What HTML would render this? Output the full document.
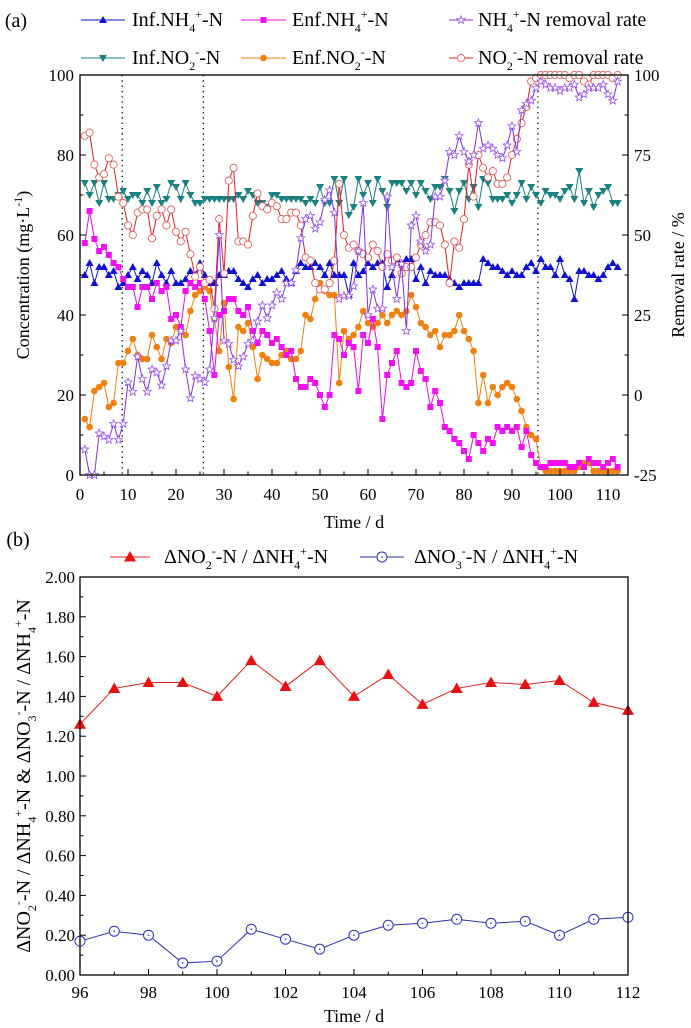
<!DOCTYPE html>
<html><head><meta charset="utf-8">
<style>
html,body{margin:0;padding:0;background:#fff;}
svg{display:block;font-family:"Liberation Serif",serif;}
</style></head>
<body>
<svg id="chart" width="691" height="1028" viewBox="0 0 691 1028" xmlns="http://www.w3.org/2000/svg">
<g id="pa"></g>
<g id="pb"></g>
</svg>
<script>
const infNH4=[50,53,48,52,52,50,51,47,48,50,52,49,51,50,48,53,50,48,51,48,48,49,51,50,53,50,48,48,50,50,51,51,49,48,47,49,50,48,49,49,50,51,49,48,51,53,52,52,53,52,50,53,50,50,50,45,53,50,51,53,52,53,53,47,50,54,53,54,54,49,52,48,51,50,50,50,49,48,47,48,48,48,48,54,53,52,52,51,50,51,50,50,52,53,51,54,52,52,50,54,50,49,44,51,51,50,50,49,50,52,53,52];
const infNO2=[73,70,73,68,73,69,69,70,71,69,70,70,68,71,68,72,68,69,73,72,69,73,70,68,68,69,69,69,69,69,69,69,70,69,71,70,68,68,67,70,70,69,69,69,69,69,68,69,68,72,68,68,74,68,74,65,67,74,70,73,68,74,71,67,73,73,73,71,73,70,73,71,69,72,72,74,71,66,71,73,69,72,67,74,73,69,69,69,70,68,70,73,69,72,70,68,71,70,70,69,71,72,69,76,68,71,67,70,71,72,68,68];
const enfNH4=[58,66,59,56,57,55,53,52,49,47,47,42,47,47,44,48,46,47,39,40,37,46,48,47,48,44,36,25,40,41,44,44,41,40,42,36,33,36,35,33,34,32,30,31,24,22,22,24,23,20,17,20,35,34,30,33,32,21,35,33,39,32,14,25,28,31,23,22,23,31,26,24,17,21,18,12,11,9,8,6,4,10,8,6,9,8,12,11,12,11,12,7,11,5,3,2,2,3,3,3,3,2,2,3,2,4,3,3,2,3,4,2];
const enfNO2=[14,12,21,22,23,17,18,28,28,31,34,30,29,29,35,32,29,34,33,37,36,35,41,45,46,47,46,39,31,43,27,19,37,36,38,32,24,30,29,28,28,30,31,29,29,31,40,39,44,48,46,45,45,23,36,34,35,37,41,38,37,38,40,38,40,41,40,41,45,42,38,37,35,36,32,35,35,36,40,36,34,31,18,25,18,22,20,22,23,22,19,16,12,10,9,2,1,1,1,1,1,1,1,2,3,3,1,1,1,1,1,1];
const nh4Rate=[-17,-25,-25,-12,-13,-14,-9,-14,-9,4,1,12,5,1,8,7,3,9,17,17,20,8,-1,6,5,4,8,24,50,17,16,11,9,12,16,17,23,28,24,28,32,30,35,35,39,49,55,56,52,54,61,64,57,30,31,31,34,45,60,25,33,27,27,62,40,30,41,20,53,56,48,45,47,62,62,67,76,75,81,76,73,75,85,77,78,77,75,74,78,84,76,89,91,92,96,98,97,96,96,95,96,96,97,93,94,96,96,96,97,94,92,98];
const no2Rate=[81,82,72,68,69,74,72,62,60,53,50,57,58,58,49,56,58,53,58,51,48,51,44,37,40,35,36,27,55,38,67,71,48,48,47,56,63,59,58,60,59,55,55,57,57,53,43,42,35,33,33,35,42,66,50,46,47,45,44,43,47,45,40,44,42,43,38,40,40,43,47,50,54,54,53,47,35,48,46,55,72,62,75,71,68,70,66,66,68,75,80,85,90,98,99,100,100,100,100,100,100,99,100,100,98,97,100,100,100,100,99,100];
const phaseDays=[8.8,25.7,95.4];
const xTicksA=[0,10,20,30,40,50,60,70,80,90,100,110];
const yTicksA=[0,20,40,60,80,100];
const yTicksR=[-25,0,25,50,75,100];
const daysB=[96,97,98,99,100,101,102,103,104,105,106,107,108,109,110,111,112];
const ratioNO2=[1.26,1.44,1.47,1.47,1.40,1.58,1.45,1.58,1.40,1.51,1.36,1.44,1.47,1.46,1.48,1.37,1.33];
const ratioNO3=[0.17,0.22,0.20,0.06,0.07,0.23,0.18,0.13,0.20,0.25,0.26,0.28,0.26,0.27,0.20,0.28,0.29];
const xTicksB=[96,98,100,102,104,106,108,110,112];
const yTicksB=[0,0.2,0.4,0.6,0.8,1.0,1.2,1.4,1.6,1.8,2.0];

const NS="http://www.w3.org/2000/svg";
function mk(parent,tag,attrs){const e=document.createElementNS(NS,tag);for(const k in attrs)e.setAttribute(k,attrs[k]);parent.appendChild(e);return e;}
const pa=document.getElementById('pa'), pb=document.getElementById('pb');

const AL=80,AR=628,AT=75,AB=475;
const xA=d=>AL+d*4.8;
const yA=v=>AB-(v/100)*(AB-AT);
const yR=r=>AB-((r+25)/125)*(AB-AT);

function marker(g,type,x,y,color,name){
  let e;
  if(type==='tri'){e=mk(g,'path',{d:`M${x},${y-4}L${x+4},${y+3}L${x-4},${y+3}Z`,fill:color});}
  else if(type==='dtri'){e=mk(g,'path',{d:`M${x-4},${y-3}L${x+4},${y-3}L${x},${y+4}Z`,fill:color});}
  else if(type==='sq'){e=mk(g,'rect',{x:x-3,y:y-3,width:6,height:6,fill:color});}
  else if(type==='dot'){e=mk(g,'circle',{cx:x,cy:y,r:3.3,fill:color});}
  else if(type==='circ'){e=mk(g,'circle',{cx:x,cy:y,r:3.6,fill:'#fff',stroke:color,'stroke-width':0.9});}
  else if(type==='bcirc'){e=mk(g,'circle',{cx:x,cy:y,r:5,fill:'#fff',stroke:color,'stroke-width':1});mk(g,'circle',{cx:x,cy:y,r:0.8,fill:color});}
  else if(type==='btri'){e=mk(g,'path',{d:`M${x},${y-6}L${x+6},${y+4.5}L${x-6},${y+4.5}Z`,fill:color});}
  else if(type==='star'){let p='';for(let i=0;i<10;i++){const rr=i%2?1.8:4.2;const a=-Math.PI/2+i*Math.PI/5;p+=(i?'L':'M')+(x+rr*Math.cos(a)).toFixed(2)+','+(y+rr*Math.sin(a)).toFixed(2);}e=mk(g,'path',{d:p+'Z',fill:'#fff',stroke:color,'stroke-width':0.8});}
  
  
}

function series(parent,vals,xf,yf,lineColor,mColor,type,name,xs){
  const g=mk(parent,'g',{});
  
  
  const pts=vals.map((v,i)=>[xf(xs?xs[i]:i+1),yf(v)]);
  const l=mk(g,'polyline',{points:pts.map(p=>p.join(',')).join(' '),fill:'none',stroke:lineColor,'stroke-width':1});
  
  
  pts.forEach(p=>marker(g,type,p[0],p[1],mColor,name+'-point'));
}

phaseDays.forEach(d=>{
  const l=mk(pa,'line',{x1:xA(d),x2:xA(d),y1:AT,y2:AB,stroke:'#000','stroke-width':1.3,'stroke-dasharray':'1.3,4'});
  
  
});

series(pa,infNO2,xA,yA,'#1a8080','#1a8080','dtri','inf-no2');
series(pa,infNH4,xA,yA,'#1010d0','#1010d0','tri','inf-nh4');
series(pa,enfNO2,xA,yA,'#f08010','#f08010','dot','enf-no2');
series(pa,enfNH4,xA,yA,'#e010e0','#f010f0','sq','enf-nh4');
series(pa,no2Rate,xA,yR,'#e02020','#e06060','circ','no2-removal-rate');
series(pa,nh4Rate,xA,yR,'#8030e0','#9a50f0','star','nh4-removal-rate');

const fa=mk(pa,'rect',{x:AL,y:AT,width:AR-AL,height:AB-AT,fill:'none',stroke:'#000','stroke-width':1.3});



function txt(parent,x,y,s,size,anchor,name){
  const t=mk(parent,'text',{x:x,y:y,'font-size':size,'text-anchor':anchor||'middle',fill:'#000'});
  t.textContent=s;
  
  
  return t;
}
for(let d=0;d<=110;d+=5){const maj=d%10===0;mk(pa,'line',{x1:xA(d),x2:xA(d),y1:AB,y2:AB-(maj?6:3.5),stroke:'#000','stroke-width':1});}
xTicksA.forEach(d=>txt(pa,xA(d),500,String(d),17,'middle','x-tick-label'));
for(let v=0;v<=100;v+=10){const maj=v%20===0;mk(pa,'line',{x1:AL,x2:AL+(maj?6:3.5),y1:yA(v),y2:yA(v),stroke:'#000','stroke-width':1});}
yTicksA.forEach(v=>txt(pa,AL-6,yA(v)+6,String(v),17,'end','y-tick-label'));
for(let r=-25;r<=100;r+=12.5){const maj=(r+25)%25===0;mk(pa,'line',{x1:AR,x2:AR-(maj?6:3.5),y1:yR(r),y2:yR(r),stroke:'#000','stroke-width':1});}
yTicksR.forEach(r=>txt(pa,AR+6,yR(r)+6,String(r),17,'start','right-tick-label'));
txt(pa,354,528,'Time / d',18,'middle','x-axis-title-a');
txt(pa,16,27,'(a)',20,'middle','panel-label-a');
(function(){
  const t=mk(pa,'text',{transform:'translate(29,275) rotate(-90)','font-size':18,'text-anchor':'middle'});
  
  
  t.innerHTML='Concentration (mg·L<tspan dy="-7" font-size="12">-1</tspan><tspan dy="7">)</tspan>';
  const t2=mk(pa,'text',{transform:'translate(684,275) rotate(-90)','font-size':18,'text-anchor':'middle'});
  
  
  t2.textContent='Removal rate / %';
})();
function legItem(parent,x1,x2,y,lineColor,mColor,type,html,tx,name,fs){
  const g=mk(parent,'g',{});
  
  
  mk(g,'line',{x1:x1,x2:x2,y1:y,y2:y,stroke:lineColor,'stroke-width':1});
  marker(g,type,(x1+x2)/2,y,mColor,name+'-marker');
  const t=mk(g,'text',{x:tx,y:y+6,'font-size':fs||20});
  t.innerHTML=html;
}
const NH4='NH<tspan dy="6" font-size="12">4</tspan><tspan dy="-14" font-size="12">+</tspan><tspan dy="8">';
const NO=n=>`NO<tspan dy="6" font-size="12">${n}</tspan><tspan dy="-14" font-size="12">-</tspan><tspan dy="8">`;
legItem(pa,81,125,20,'#1010d0','#1010d0','tri',`Inf.${NH4}-N</tspan>`,132,'legend-inf-nh4');
legItem(pa,241,286,20,'#e010e0','#f010f0','sq',`Enf.${NH4}-N</tspan>`,292,'legend-enf-nh4');
legItem(pa,449,473,20,'#8030e0','#9a50f0','star',`${NH4}-N  removal rate</tspan>`,478,'legend-nh4-rate');
legItem(pa,81,125,58,'#1a8080','#1a8080','dtri',`Inf.${NO(2)}-N</tspan>`,132,'legend-inf-no2');
legItem(pa,241,286,58,'#f08010','#f08010','dot',`Enf.${NO(2)}-N</tspan>`,292,'legend-enf-no2');
legItem(pa,449,473,58,'#e02020','#e06060','circ',`${NO(2)}-N  removal rate</tspan>`,478,'legend-no2-rate');

const BL=80,BR=628,BT=577,BB=975;
const xB=d=>BL+(d-96)/16*(BR-BL);
const yB=v=>BB-v/2*(BB-BT);
series(pb,ratioNO3,xB,yB,'#3030b0','#3030c0','bcirc','ratio-no3',daysB);
series(pb,ratioNO2,xB,yB,'#e02020','#e81010','btri','ratio-no2',daysB);
const fb=mk(pb,'rect',{x:BL,y:BT,width:BR-BL,height:BB-BT,fill:'none',stroke:'#000','stroke-width':1.3});


for(let d=96;d<=112;d++){const maj=d%2===0;mk(pb,'line',{x1:xB(d),x2:xB(d),y1:BB,y2:BB-(maj?6:3.5),stroke:'#000','stroke-width':1});}
xTicksB.forEach(d=>txt(pb,xB(d),998,String(d),17,'middle','x-tick-label-b'));
for(let i=0;i<=20;i++){const v=i/10;const maj=i%2===0;mk(pb,'line',{x1:BL,x2:BL+(maj?6:3.5),y1:yB(v),y2:yB(v),stroke:'#000','stroke-width':1});}
yTicksB.forEach(v=>txt(pb,BL-5,yB(v)+6,v.toFixed(2),17,'end','y-tick-label-b'));
txt(pb,354,1022,'Time / d',18,'middle','x-axis-title-b');
txt(pb,18,546,'(b)',20,'middle','panel-label-b');
(function(){
  const t=mk(pb,'text',{transform:'translate(30,776) rotate(-90)','font-size':20,'text-anchor':'middle'});
  
  
  t.innerHTML='Δ'+NO(2)+'-N / Δ</tspan>'+NH4+'-N &amp; Δ</tspan>'+NO(3)+'-N / Δ</tspan>'+NH4+'-N</tspan>';
})();
legItem(pb,110,150,557,'#e02020','#e81010','btri',`Δ${NO(2)}-N / Δ</tspan>${NH4}-N</tspan>`,164,'legend-ratio-no2',20);
legItem(pb,360,404,557,'#3030b0','#3030c0','bcirc',`Δ${NO(3)}-N / Δ</tspan>${NH4}-N</tspan>`,414,'legend-ratio-no3',20);
</script>
</body></html>
